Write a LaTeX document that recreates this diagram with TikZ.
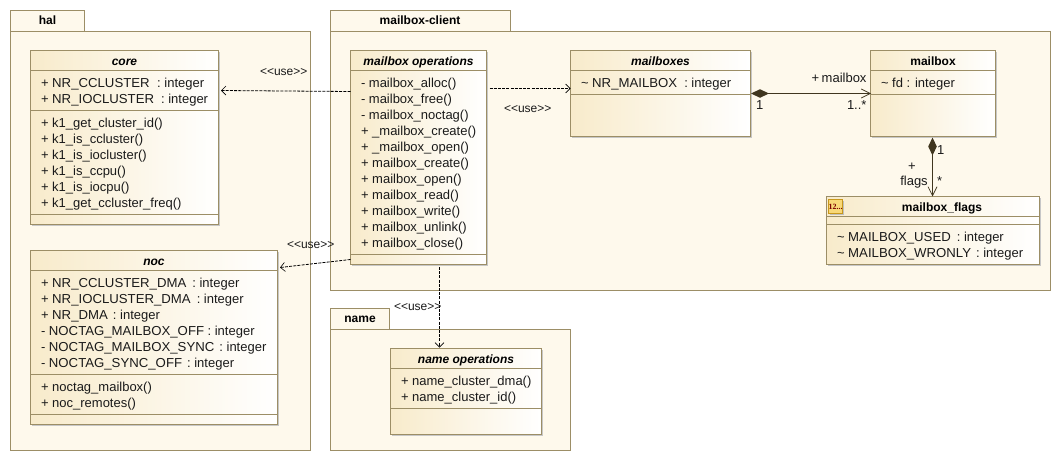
\documentclass[tikz,border=0pt]{standalone}
\usepackage{fontspec}
\setmainfont{Liberation Sans}
\newfontfamily\capsfam[FakeStretch=1.015]{Liberation Sans}
\newfontfamily\iconfam{Liberation Serif}
\usetikzlibrary{calc,shadows,arrows.meta}
\definecolor{pkgfill}{HTML}{FEF9EC}
\definecolor{pkgline}{HTML}{9C8E66}
\definecolor{clsleft}{HTML}{F8EBCB}
\definecolor{inkc}{HTML}{1A1A1A}
\definecolor{assoc}{HTML}{40361F}
\definecolor{iconfill}{HTML}{F8D878}
\definecolor{iconline}{HTML}{C8981C}
\definecolor{icontext}{HTML}{7A0000}
\newcommand{\Tl}{\rule{0pt}{11pt}}
\newcommand{\cp}[2]{{\capsfam #2}\kern#1pt}
\newcommand{\compline}[2]{\draw[sepline] ($(#1.north west)+(0,#2)$) -- ($(#1.north east)+(0,#2)$);}
\tikzset{
  x=1pt,y=-1pt,
  pkgbox/.style={draw=pkgline,fill=pkgfill,line width=1pt,inner sep=0,outer sep=0,anchor=north west},
  clsbox/.style={draw=pkgline,left color=clsleft,right color=white,line width=1pt,inner sep=0,outer sep=0,anchor=north west,
    general shadow={shadow xshift=1.5pt,shadow yshift=-1.5pt,fill=black!22}},
  sepline/.style={draw=pkgline,line width=1pt},
  txt/.style={font=\fontsize{13}{16}\selectfont,text=inkc,inner sep=0,outer sep=0},
  members/.style={txt,align=left,anchor=north west},
  ctitle/.style={font=\fontsize{12}{16}\selectfont\bfseries,text=black,inner sep=0,outer sep=0,anchor=base},
  ititle/.style={ctitle,font=\fontsize{12}{16}\selectfont\bfseries\itshape},
  lab/.style={txt,anchor=base west},
  uselab/.style={font=\fontsize{12}{14}\selectfont,text=inkc,inner sep=0,outer sep=0,anchor=base west},
  usedep/.style={draw=black,line width=0.8pt,dash pattern=on 3pt off 1.2pt,-{Straight Barb[length=4.5pt,width=9pt,line width=0.6pt]}},
  comp/.style={draw=assoc,line width=1.1pt,{Diamond[length=18pt,width=8.5pt,fill=assoc]}-{Straight Barb[length=9pt,width=9pt,line width=0.7pt]}},
}
\begin{document}
\begin{tikzpicture}
\useasboundingbox (0,0) rectangle (1061,461);
\fill[white] (0,0) rectangle (1061,461);
% packages
\node[pkgbox,minimum width=74pt,minimum height=21pt] (haltab) at (10.5,10.5) {};
\node[pkgbox,minimum width=300pt,minimum height=419pt] (hal) at (10.5,31.5) {};
\node[ctitle] (halname) at (47.5,24.5) {hal};
\node[pkgbox,minimum width=180pt,minimum height=21pt] (mctab) at (330.5,10.5) {};
\node[pkgbox,minimum width=720pt,minimum height=259pt] (mc) at (330.5,31.5) {};
\node[ctitle] (mcname) at (420,24.5) {mailbox-client};
\node[pkgbox,minimum width=59pt,minimum height=21pt] (nametab) at (330.5,308.5) {};
\node[pkgbox,minimum width=240pt,minimum height=121pt] (namepkg) at (330.5,329.5) {};
\node[ctitle] (namename) at (360,322) {name};
% core
\node[clsbox,minimum width=188pt,minimum height=174pt] (core) at (30.5,50.5) {};
\compline{core}{20}\compline{core}{60}\compline{core}{164}
\node[ititle] (coret) at (124.5,65) {core};
\node[members] (corea) at (41,76) {\Tl+ \cp{7.5}{NR\_CCLUSTER} : integer\\+ \cp{7}{NR\_IOCLUSTER} : integer};
\node[members] (coreo) at (41,116) {\Tl+ k1\_get\_cluster\_id()\\+ k1\_is\_ccluster()\\+ k1\_is\_iocluster()\\+ k1\_is\_ccpu()\\+ k1\_is\_iocpu()\\+ k1\_get\_ccluster\_freq()};
% noc
\node[clsbox,minimum width=247pt,minimum height=174pt] (noc) at (30.5,250.5) {};
\compline{noc}{20}\compline{noc}{124}\compline{noc}{164}
\node[ititle] (noct) at (154,265) {noc};
\node[members] (noca) at (41,276) {\Tl+ \cp{6}{NR\_CCLUSTER\_DMA} : integer\\+ \cp{6}{NR\_IOCLUSTER\_DMA} : integer\\+ \cp{5}{NR\_DMA} : integer\\- \cp{3.5}{NOCTAG\_MAILBOX\_OFF} : integer\\- \cp{5}{NOCTAG\_MAILBOX\_SYNC} : integer\\- \cp{5}{NOCTAG\_SYNC\_OFF} : integer};
\node[members] (noco) at (41,380) {\Tl+ noctag\_mailbox()\\+ noc\_remotes()};
% mailbox operations
\node[clsbox,minimum width=136pt,minimum height=214pt] (ops) at (350.5,50.5) {};
\compline{ops}{20}\compline{ops}{204}
\node[ititle] (opst) at (418.5,65) {mailbox operations};
\node[members] (opso) at (361,76) {\Tl- mailbox\_alloc()\\- mailbox\_free()\\- mailbox\_noctag()\\+ \_mailbox\_create()\\+ \_mailbox\_open()\\+ mailbox\_create()\\+ mailbox\_open()\\+ mailbox\_read()\\+ mailbox\_write()\\+ mailbox\_unlink()\\+ mailbox\_close()};
% mailboxes
\node[clsbox,minimum width=180pt,minimum height=86pt] (mbs) at (570.5,50.5) {};
\compline{mbs}{20}\compline{mbs}{44}
\node[ititle] (mbst) at (660.5,65) {mailboxes};
\node[members] (mbsa) at (581,76) {\Tl\textasciitilde{} \cp{7}{NR\_MAILBOX} : integer};
% mailbox
\node[clsbox,minimum width=125pt,minimum height=86pt] (mb) at (870.5,50.5) {};
\compline{mb}{20}\compline{mb}{44}
\node[ctitle] (mbt) at (933,65) {mailbox};
\node[members] (mba) at (881,76) {\Tl\textasciitilde{} fd : integer};
% mailbox_flags
\node[clsbox,minimum width=213pt,minimum height=68pt] (fl) at (826.5,196.5) {};
\compline{fl}{20}\compline{fl}{28}
\node[ctitle] (flt) at (942,211) {mailbox\_flags};
\node[members] (flc) at (837,230) {\Tl\textasciitilde{} \cp{6}{MAILBOX\_USED} : integer\\\textasciitilde{} \cp{5}{MAILBOX\_WRONLY} : integer};
\node[draw=iconline,fill=iconfill,line width=0.9pt,inner sep=0,outer sep=0,minimum width=14pt,minimum height=14pt,anchor=north west,text=icontext,font=\iconfam\bfseries\fontsize{8}{8}\selectfont,general shadow={shadow xshift=1pt,shadow yshift=-1pt,fill=black!25}] (flicon) at (828.5,199.5) {12...};
% name operations
\node[clsbox,minimum width=151pt,minimum height=86pt] (nm) at (390.5,348.5) {};
\compline{nm}{20}\compline{nm}{60}
\node[ititle] (nmt) at (466,363) {name operations};
\node[members] (nmo) at (401,374) {\Tl+ name\_cluster\_dma()\\+ name\_cluster\_id()};
% connectors
\draw[usedep] ($(ops.north west)+(0,41)$) -- ($(core.north east)+(2.5,40)$);
\node[uselab] (u1) at (260,75) {<{}<use>{}>};
\draw[usedep] ($(ops.north east)+(3,38)$) -- ($(mbs.north west)+(0,38)$);
\node[uselab] (u2) at (504,112) {<{}<use>{}>};
\draw[usedep] ($(ops.south west)+(0,-5)$) -- ($(noc.north east)+(2.5,17)$);
\node[uselab] (u3) at (287,248) {<{}<use>{}>};
\draw[usedep] ($(nm.north west)+(49,-81.5)$) -- ($(nm.north west)+(49,-1)$);
\node[uselab] (u4) at (394,310) {<{}<use>{}>};
\draw[comp] ($(mbs.north east)+(0.5,43)$) -- ($(mb.north west)+(0.5,43)$);
\node[lab] (l1) at (811.5,82) {+\kern-1pt{} mailbox};
\node[lab] (l2) at (756,109) {1};
\node[lab] (l3) at (847,109) {1..*};
\draw[comp] ($(mb.south west)+(62,1)$) -- ($(fl.north west)+(106,0)$);
\node[lab] (l4) at (937,154) {1};
\node[txt,anchor=base] (l5) at (912,170) {+};
\node[txt,anchor=base] (l6) at (914,185.5) {flags};
\node[lab] (l7) at (937,185.5) {*};
\end{tikzpicture}
\end{document}
